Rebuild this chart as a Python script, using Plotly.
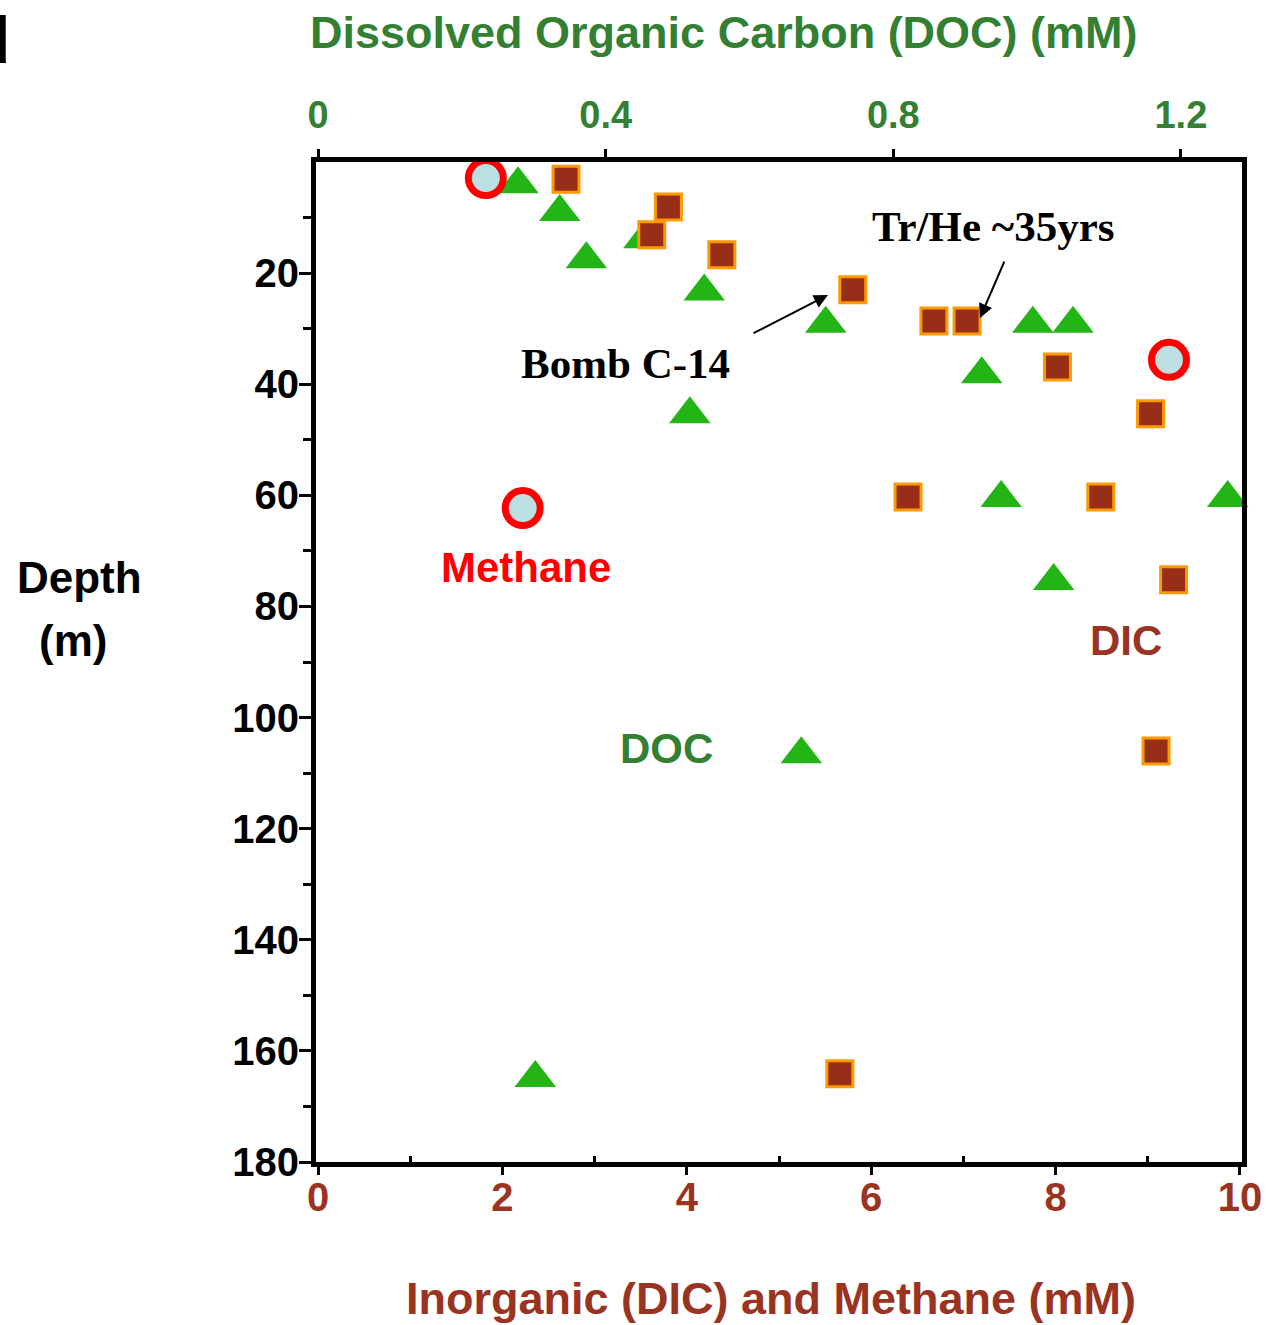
import plotly.graph_objects as go

# ---- data -------------------------------------------------------------
# Dissolved organic carbon (mM, top axis) vs depth (m)
doc_conc = [0.278, 0.336, 0.373, 0.453, 0.537, 0.706, 0.994, 1.050, 0.923,
            0.517, 0.950, 1.265, 1.023, 0.672, 0.302]
doc_depth = [4.0, 9.0, 17.5, 13.9, 23.3, 29.1, 29.1, 29.1, 38.2,
             45.4, 60.5, 60.5, 75.4, 106.6, 164.9]

# Dissolved inorganic carbon (mM, bottom axis) vs depth (m)
dic_conc = [2.69, 3.80, 3.62, 4.38, 5.80, 6.68, 7.04, 8.02, 9.03,
            6.40, 8.49, 9.28, 9.09, 5.66]
dic_depth = [3.1, 8.1, 13.1, 16.7, 23.0, 28.6, 28.6, 36.9, 45.3,
             60.3, 60.3, 75.2, 106.0, 164.1]

# Methane (mM, bottom axis) vs depth (m)
ch4_conc = [1.82, 9.23, 2.22]
ch4_depth = [2.9, 35.6, 62.3]

depth_ticks = [20, 40, 60, 80, 100, 120, 140, 160, 180]
depth_minor = [10, 30, 50, 70, 90, 110, 130, 150, 170]
dic_ticks = [0, 2, 4, 6, 8, 10]
dic_minor = [1, 3, 5, 7, 9]
doc_ticks = [0, 0.4, 0.8, 1.2]
doc_labels = ["0", "0.4", "0.8", "1.2"]

# ---- styling ------------------------------------------------------------
W, H = 1278, 1325
L, R, T, B = 316, 1242, 162, 1162
SANS = "Liberation Sans, Arial, sans-serif"
SERIF = "Liberation Serif, Times New Roman, serif"
GREEN_TXT = "#338033"
BROWN_TXT = "#9B3322"
TRI_GREEN = "#22B515"
SQ_FILL = "#962E18"
SQ_EDGE = "#FF9900"


def px(x):
    return (x - L) / (R - L)


def py(y):
    return 1 - (y - T) / (B - T)


fig = go.Figure()

fig.add_trace(go.Scatter(
    x=doc_conc, y=doc_depth, xaxis="x", yaxis="y", mode="markers",
    name="DOC", cliponaxis=False,
    marker=dict(symbol="triangle-up", size=36, color=TRI_GREEN,
                line=dict(width=0)),
))
fig.add_trace(go.Scatter(
    x=dic_conc, y=dic_depth, xaxis="x2", yaxis="y", mode="markers",
    name="DIC", cliponaxis=False,
    marker=dict(symbol="square", size=26, color=SQ_FILL,
                line=dict(width=3, color=SQ_EDGE)),
))
fig.add_trace(go.Scatter(
    x=ch4_conc, y=ch4_depth, xaxis="x2", yaxis="y", mode="markers",
    name="Methane", cliponaxis=False,
    marker=dict(symbol="circle", size=35, color="#BBDFE3",
                line=dict(width=7, color="#FF0000")),
))

tick_common = dict(showgrid=False, zeroline=False, showline=True,
                   linewidth=5, linecolor="black", tickcolor="black",
                   tickwidth=3)

fig.update_layout(
    width=W, height=H,
    margin=dict(l=L, r=W - R, t=T, b=H - B),
    paper_bgcolor="white", plot_bgcolor="white",
    showlegend=False,
    xaxis=dict(  # DOC, top
        side="top", anchor="y", range=[-0.003, 1.285],
        tickmode="array", tickvals=doc_ticks, ticktext=doc_labels,
        ticks="outside", ticklen=8, ticklabelstandoff=6,
        tickfont=dict(family=SANS, size=38, color=GREEN_TXT, weight="bold"),
        **tick_common,
    ),
    xaxis2=dict(  # DIC / methane, bottom
        side="bottom", anchor="y", overlaying="x", range=[-0.022, 10.022],
        tickmode="array", tickvals=dic_ticks,
        ticks="outside", ticklen=8, ticklabelstandoff=-12,
        minor=dict(tickmode="array", tickvals=dic_minor, ticks="inside",
                   ticklen=6, tickwidth=3, tickcolor="black"),
        tickfont=dict(family=SANS, size=40, color=BROWN_TXT, weight="bold"),
        **tick_common,
    ),
    yaxis=dict(
        range=[180, 0], mirror=True,
        tickmode="array", tickvals=depth_ticks,
        ticks="outside", ticklen=12, ticklabelstandoff=-8,
        minor=dict(tickmode="array", tickvals=depth_minor, ticks="outside",
                   ticklen=8, tickwidth=3, tickcolor="black"),
        tickfont=dict(family=SANS, size=40, color="black", weight="bold"),
        **tick_common,
    ),
)

ann = []


def label(text, x, y, size, color, family=SANS, xanchor="center"):
    ann.append(dict(text=text, x=px(x), y=py(y), xref="paper", yref="paper",
                    xanchor=xanchor, yanchor="middle", showarrow=False,
                    font=dict(family=family, size=size, color=color)))


# axis titles
label("<b>Dissolved Organic Carbon (DOC) (mM)</b>", 724, 32, 45, GREEN_TXT)
label("<b>Inorganic (DIC) and Methane (mM)</b>", 771, 1298, 45, BROWN_TXT)
label("<b>Depth</b>", 79, 577, 44, "black")
label("<b>(m)</b>", 73, 640, 44, "black")

# series labels
label("<b>Methane</b>", 526, 567, 42, "#FF0000")
label("<b>DIC</b>", 1126, 640, 42, BROWN_TXT)
label("<b>DOC</b>", 666, 748, 42, GREEN_TXT)

# dating annotations
label("<b>Tr/He ~35yrs</b>", 993, 227, 43, "black", family=SERIF)
label("<b>Bomb C-14</b>", 625, 363, 43, "black", family=SERIF)

# panel letter
label("<b>d</b>", 12, 40, 66, "black", xanchor="right")

# arrows: head position and tail offset, in pixels
for (hx, hy), (tx, ty) in [((980, 318), (1005, 260)),
                           ((828, 295), (752, 334))]:
    ann.append(dict(x=px(hx), y=py(hy), xref="paper", yref="paper",
                    ax=tx - hx, ay=ty - hy, axref="pixel", ayref="pixel",
                    text="", showarrow=True, arrowhead=2, arrowsize=1.4,
                    arrowwidth=2, arrowcolor="black"))

fig.update_layout(annotations=ann)

fig.write_html("out.html")
